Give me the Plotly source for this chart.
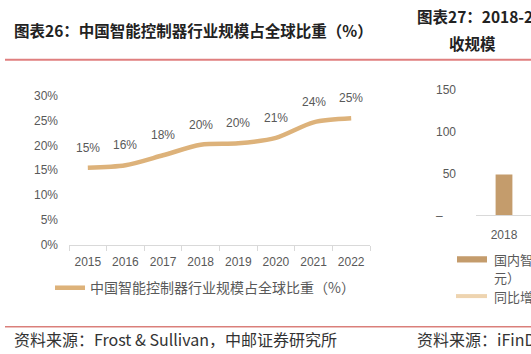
import plotly.graph_objects as go

# ---- data ----
years = ["2015", "2016", "2017", "2018", "2019", "2020", "2021", "2022"]
share = [0.155, 0.160, 0.180, 0.201, 0.204, 0.215, 0.246, 0.254]
share_labels = ["15%", "16%", "18%", "20%", "20%", "21%", "24%", "25%"]
y_ticks = [0, 0.05, 0.10, 0.15, 0.20, 0.25, 0.30]
y_tick_labels = ["0%", "5%", "10%", "15%", "20%", "25%", "30%"]

r_years = ["2018"]
r_market = [49]
r_ticks = [0, 50, 100, 150]
r_tick_labels = ["–\u2007\u2007", "50", "100", "150"]

W, H = 531, 354
def px(v):
    return v / W
def py(v):
    return 1 - v / H

LINE_C = "#DDB27A"
BAR_C = "#C49C6C"
LIGHT_C = "#EED4B0"
GRAY = "#595959"
AX = "#D9D9D9"
CJK = "Noto Sans CJK SC"
LAT = "Liberation Sans, Arial"

fig = go.Figure()

fig.add_trace(go.Scatter(
    x=years, y=share, mode="lines", line=dict(color=LINE_C, width=4.5, shape="spline", smoothing=0.8),
    name="中国智能控制器行业规模占全球比重（%）", xaxis="x", yaxis="y", legend="legend",
))

fig.add_trace(go.Bar(
    x=r_years, y=r_market, marker=dict(color=BAR_C, line=dict(width=0)), width=0.3,
    name="国内智能控制器市场规模（亿元）", xaxis="x2", yaxis="y2", showlegend=False,
))

for i, (v, t) in enumerate(zip(share, share_labels)):
    fig.add_annotation(x=i, y=v, xref="x", yref="y", text=t, showarrow=False,
                       yshift=20, yanchor="middle", font=dict(family=LAT, size=12, color=GRAY))

fig.update_layout(
    width=W, height=H, margin=dict(l=0, r=0, t=0, b=0),
    paper_bgcolor="white", plot_bgcolor="white",
    xaxis=dict(domain=[px(69), px(370)], type="category", range=[-0.5, 7.5],
               showline=True, linecolor=AX, linewidth=1, ticks="outside", tickson="boundaries",
               ticklen=5, tickcolor=AX, showgrid=False, zeroline=False, ticklabelstandoff=5,
               tickfont=dict(family=LAT, size=12, color=GRAY), anchor="y"),
    yaxis=dict(domain=[py(248), py(92)], range=[0, 0.30], tickvals=y_ticks, ticktext=y_tick_labels,
               showgrid=False, zeroline=False, showline=False, ticks="", ticklabelstandoff=10,
               tickfont=dict(family=LAT, size=12, color=GRAY), anchor="x"),
    xaxis2=dict(domain=[px(476), 1], type="category", range=[-0.5, -0.5 + 55 / 56],
                showline=True, linecolor=AX, linewidth=1, ticks="", showgrid=False, zeroline=False,
                ticklabelstandoff=8,
                tickfont=dict(family=LAT, size=12, color=GRAY), anchor="y2"),
    yaxis2=dict(domain=[py(217), py(86.7)], range=[0, 150], tickvals=r_ticks, ticktext=r_tick_labels,
                showgrid=False, zeroline=False, showline=False, ticks="", ticklabelstandoff=19,
                tickfont=dict(family=LAT, size=12, color=GRAY), anchor="x2"),
    legend=dict(x=px(50), y=py(292.7), xanchor="left", yanchor="middle", orientation="h",
                bgcolor="rgba(0,0,0,0)", font=dict(family=CJK, size=14, color=GRAY)),
    showlegend=True,
)

# separators
fig.add_shape(type="line", xref="paper", yref="paper", x0=px(5), x1=1, y0=py(55), y1=py(55),
              line=dict(color="#E07F7F", width=2))
fig.add_shape(type="line", xref="paper", yref="paper", x0=px(5), x1=1, y0=py(333), y1=py(333),
              line=dict(color="#C8413A", width=1))

# titles
fig.add_annotation(x=px(12), y=py(24), xref="paper", yref="paper", xanchor="left", yanchor="middle",
                   showarrow=False, text="<b>图表26：中国智能控制器行业规模占全球比重（%）</b>",
                   font=dict(family=CJK, size=15.5, color="#222222"))
fig.add_annotation(x=px(415), y=py(9), xref="paper", yref="paper", xanchor="left", yanchor="middle",
                   showarrow=False, text="<b>图表27：2018-2022年中国智能控制器行业营</b>",
                   font=dict(family=CJK, size=15.5, color="#222222"))
fig.add_annotation(x=px(447), y=py(37), xref="paper", yref="paper", xanchor="left", yanchor="middle",
                   showarrow=False, text="<b>收规模</b>",
                   font=dict(family=CJK, size=15.5, color="#222222"))

# right partial legend
fig.add_shape(type="rect", xref="paper", yref="paper", x0=px(457), x1=px(487), y0=py(259.5), y1=py(266),
              fillcolor=BAR_C, line=dict(width=0))
fig.add_annotation(x=px(492), y=py(262.5), xref="paper", yref="paper", xanchor="left", yanchor="middle",
                   showarrow=False, text="国内智能控制器市场规模（亿", font=dict(family=CJK, size=13, color=GRAY))
fig.add_annotation(x=px(492), y=py(281.5), xref="paper", yref="paper", xanchor="left", yanchor="middle",
                   showarrow=False, text="元）", font=dict(family=CJK, size=13, color=GRAY))
fig.add_shape(type="line", xref="paper", yref="paper", x0=px(456), x1=px(487), y0=py(301), y1=py(301),
              line=dict(color=LIGHT_C, width=4))
fig.add_annotation(x=px(492), y=py(301), xref="paper", yref="paper", xanchor="left", yanchor="middle",
                   showarrow=False, text="同比增长率（%）", font=dict(family=CJK, size=13, color=GRAY))

# sources
fig.add_annotation(x=px(12), y=py(346), xref="paper", yref="paper", xanchor="left", yanchor="middle",
                   showarrow=False, text="资料来源：Frost & Sullivan，中邮证券研究所",
                   font=dict(family=CJK, size=16, color="#333333"))
fig.add_annotation(x=px(415), y=py(346), xref="paper", yref="paper", xanchor="left", yanchor="middle",
                   showarrow=False, text="资料来源：iFinD，中邮证券研究所",
                   font=dict(family=CJK, size=16, color="#333333"))

fig.write_html("out.html")
